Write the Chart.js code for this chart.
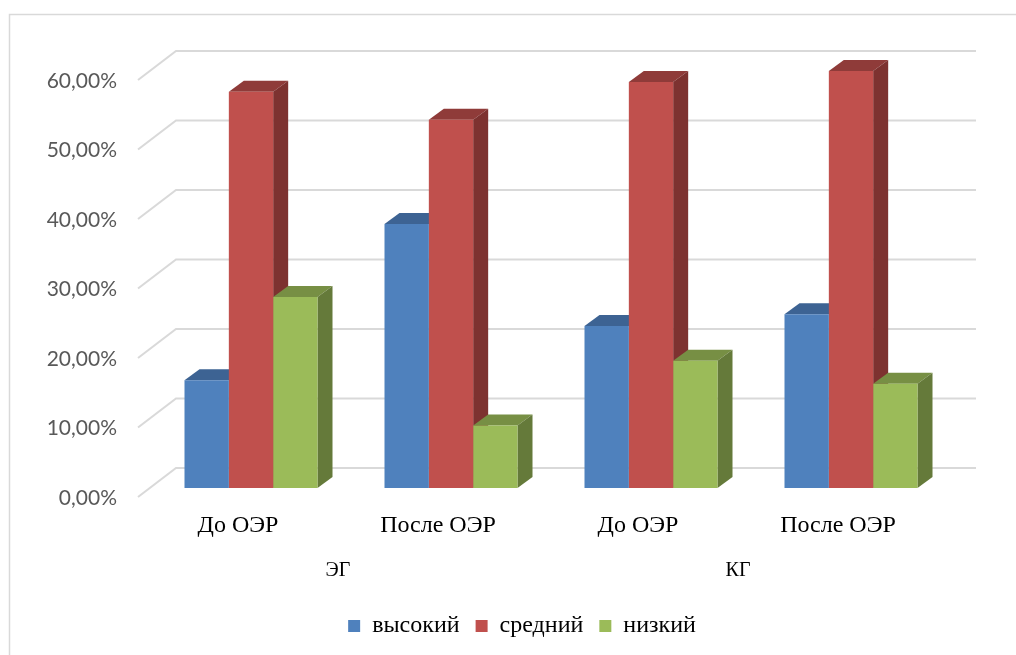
<!DOCTYPE html>
<html lang="ru">
<head>
<meta charset="utf-8">
<title>Уровни по группам</title>
<script src="https://cdn.jsdelivr.net/npm/chart.js@4/dist/chart.umd.min.js"></script>
<style>
  html, body { margin: 0; padding: 0; background: #ffffff; overflow: hidden; }
  #wrap { position: relative; width: 1016px; height: 655px; }
</style>
</head>
<body>
<div id="wrap"><canvas id="chart"></canvas></div>
<script>
// Categories and group captions
const categories = ['До ОЭР', 'После ОЭР', 'До ОЭР', 'После ОЭР'];
const groups = ['ЭГ', 'КГ'];

// Series values, percent
const vysokiy = [15.5, 38.0, 23.3, 25.0];
const sredniy = [57.0, 53.0, 58.4, 60.0];
const nizkiy  = [27.5, 9.0, 18.3, 15.0];

// Value axis
const yMin = 0;
const yMax = 60;
const yStep = 10;

// Pseudo-3D geometry (pixels)
const DEPTH = { dx: 15, dy: -11 };   // bar depth
const WALL  = { dx: 25, dy: -20 };   // back wall relative to bar plane
const FRONT = { dx: -13, dy: 9 };    // front floor edge relative to bar plane
const LEGEND_LEFT = 93;              // legend is centred between this and the plot's right edge

const fmtPct = v => v.toFixed(2).replace('.', ',') + '%';

const box3d = {
  id: 'box3d',
  afterLayout(chart) {
    // centre the legend row under the plot body rather than the whole canvas
    if (chart.legend) {
      chart.legend.left = LEGEND_LEFT;
      chart.legend.right = chart.chartArea.right;
    }
  },
  beforeDraw(chart) {
    const ctx = chart.ctx;
    ctx.save();
    ctx.fillStyle = '#ffffff';
    ctx.fillRect(0, 0, chart.width, chart.height);
    ctx.strokeStyle = '#D9D9D9';
    ctx.lineWidth = 1.5;
    ctx.strokeRect(9.5, 14.5, chart.width + 20, chart.height + 20);
    ctx.restore();
  },
  beforeDatasetsDraw(chart) {
    const { ctx, chartArea, scales } = chart;
    const y = scales.y;
    ctx.save();
    // gridlines on the back wall with their side-wall diagonals
    ctx.strokeStyle = '#D9D9D9';
    ctx.lineWidth = 2;
    y.ticks.forEach(t => {
      const py = y.getPixelForValue(t.value);
      ctx.beginPath();
      ctx.moveTo(chartArea.left + FRONT.dx, py + FRONT.dy);
      ctx.lineTo(chartArea.left + WALL.dx, py + WALL.dy);
      ctx.lineTo(chartArea.right + WALL.dx, py + WALL.dy);
      ctx.stroke();
    });
    // top and right faces of every column
    chart.data.datasets.forEach((ds, i) => {
      const meta = chart.getDatasetMeta(i);
      meta.data.forEach(bar => {
        const p = bar.getProps(['x', 'y', 'base', 'width'], true);
        const l = p.x - p.width / 2, r = p.x + p.width / 2;
        const top = p.y, base = p.base;
        ctx.fillStyle = ds.topColor;
        ctx.beginPath();
        ctx.moveTo(l, top);
        ctx.lineTo(l + DEPTH.dx, top + DEPTH.dy);
        ctx.lineTo(r + DEPTH.dx, top + DEPTH.dy);
        ctx.lineTo(r, top);
        ctx.closePath();
        ctx.fill();
        ctx.fillStyle = ds.sideColor;
        ctx.beginPath();
        ctx.moveTo(r, top);
        ctx.lineTo(r + DEPTH.dx, top + DEPTH.dy);
        ctx.lineTo(r + DEPTH.dx, base + DEPTH.dy);
        ctx.lineTo(r, base);
        ctx.closePath();
        ctx.fill();
      });
    });
    ctx.restore();
  }
};

const serifFont = 'Liberation Serif, Times New Roman, serif';

new Chart(document.getElementById('chart'), {
  type: 'bar',
  data: {
    labels: categories,
    datasets: [
      { label: 'высокий', data: vysokiy, backgroundColor: '#4F81BD', topColor: '#3D6393', sideColor: '#355685' },
      { label: 'средний', data: sredniy, backgroundColor: '#C0504D', topColor: '#8F3B39', sideColor: '#7D3230' },
      { label: 'низкий',  data: nizkiy,  backgroundColor: '#9BBB59', topColor: '#778F44', sideColor: '#657A3A' }
    ]
  },
  options: {
    responsive: true,
    maintainAspectRatio: false,
    animation: false,
    events: [],
    layout: { padding: { left: 20, right: 65, top: 71, bottom: 7 } },
    datasets: {
      bar: { categoryPercentage: 0.665, barPercentage: 1.0, borderWidth: 0 }
    },
    scales: {
      y: {
        min: yMin,
        max: yMax,
        grid: { display: false, drawTicks: false },
        border: { display: false },
        ticks: {
          stepSize: yStep,
          padding: 34,
          labelOffset: 10,
          color: '#595959',
          font: { family: 'Lato, Carlito, Calibri, sans-serif', size: 21 },
          callback: v => fmtPct(v)
        },
        afterFit(scale) { scale.width = 131; }
      },
      x: {
        weight: 1,
        grid: { display: false, drawTicks: false },
        border: { display: false },
        ticks: {
          padding: 23,
          labelOffset: FRONT.dx,
          color: '#000000',
          maxRotation: 0,
          autoSkip: false,
          font: { family: serifFont, size: 24 }
        },
        afterFit(scale) { scale.height = 56; }
      },
      x2: {
        type: 'category',
        position: 'bottom',
        weight: 2,
        labels: groups,
        offset: true,
        grid: { display: false, drawTicks: false },
        border: { display: false },
        ticks: {
          padding: 15,
          labelOffset: FRONT.dx,
          color: '#000000',
          maxRotation: 0,
          autoSkip: false,
          font: { family: serifFont, size: 20 }
        },
        afterFit(scale) { scale.height = 54; }
      }
    },
    plugins: {
      tooltip: { enabled: false },
      legend: {
        position: 'bottom',
        labels: {
          boxWidth: 12,
          boxHeight: 12,
          padding: 16,
          color: '#000000',
          font: { family: serifFont, size: 24 }
        }
      }
    }
  },
  plugins: [box3d]
});
</script>
</body>
</html>
